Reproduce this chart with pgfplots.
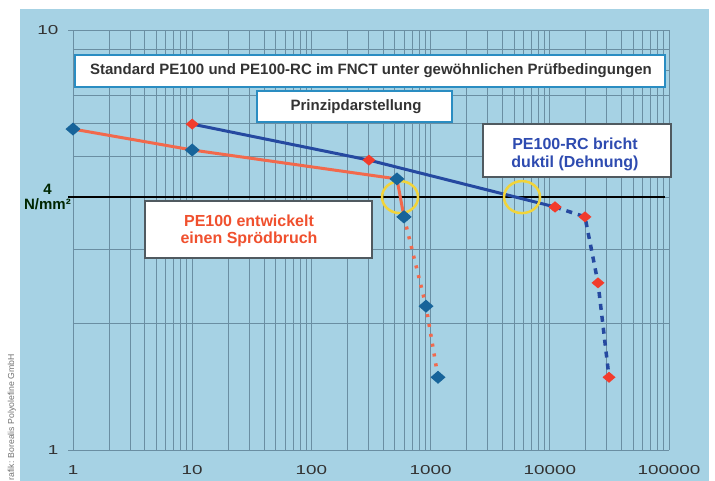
\documentclass[border=0pt]{standalone}
\usepackage{fontspec}
\setmainfont{Liberation Sans}
\usepackage{pgfplots}
\pgfplotsset{compat=1.18}
\usepackage{pgfplotstable}

\definecolor{bgblue}{HTML}{A6D2E4}
\definecolor{gridc}{HTML}{6A8EA2}
\definecolor{lineblue}{HTML}{2549A0}
\definecolor{lineorange}{HTML}{F2694C}
\definecolor{diablue}{HTML}{17649A}
\definecolor{redmark}{HTML}{F23C2C}
\definecolor{yellowc}{HTML}{F2D43A}
\definecolor{boxblue}{HTML}{2A8DC2}
\definecolor{boxgray}{HTML}{505A60}
\definecolor{textdark}{HTML}{333333}
\definecolor{textblue}{HTML}{2E4BB0}
\definecolor{textred}{HTML}{F0502E}
\definecolor{tickc}{HTML}{333333}

\pgfdeclareplotmark{bdia}{%
  \pgfpathmoveto{\pgfqpoint{0pt}{6.5pt}}%
  \pgfpathlineto{\pgfqpoint{7.5pt}{0pt}}%
  \pgfpathlineto{\pgfqpoint{0pt}{-6.5pt}}%
  \pgfpathlineto{\pgfqpoint{-7.5pt}{0pt}}%
  \pgfpathclose\pgfusepathqfill}
\pgfdeclareplotmark{rdia}{%
  \pgfpathmoveto{\pgfqpoint{0pt}{5.5pt}}%
  \pgfpathlineto{\pgfqpoint{6.5pt}{0pt}}%
  \pgfpathlineto{\pgfqpoint{0pt}{-5.5pt}}%
  \pgfpathlineto{\pgfqpoint{-6.5pt}{0pt}}%
  \pgfpathclose\pgfusepathqfill}

\newcommand\wide[1]{\scalebox{1.45}[1]{#1}}

% PE100 (Standard)
\pgfplotstableread{
x y
1 5.81
10 5.18
522 4.42
598 3.59
}\pesolid
\pgfplotstableread{
x y
598 3.59
915 2.20
1154 1.49
}\pedotted
% PE100-RC
\pgfplotstableread{
x y
10 5.97
304 4.90
11060 3.79
}\rcsolid
\pgfplotstableread{
x y
11060 3.79
19730 3.59
25370 2.50
31400 1.49
}\rcdashed

\begin{document}
\begin{tikzpicture}
\fill[white] (0pt,0pt) rectangle (715pt,481pt);
\fill[bgblue] (20pt,0pt) rectangle (709pt,472pt);
\node[rotate=90, anchor=west, text=gray!90!black, font=\fontsize{8.7}{8.7}\selectfont, inner sep=0pt] at (12pt,0.5pt) {rafik: Borealis Polyolefine GmbH};
\begin{axis}[
  at={(73pt,31pt)}, anchor=south west,
  scale only axis, width=596pt, height=420pt,
  xmode=log, ymode=log,
  xmin=1, xmax=100000, ymin=1, ymax=10,
  xtick={1,10,100,1000,10000,100000},
  xticklabels={\wide{1},\wide{10},\wide{100},\wide{1000},\wide{10000},\wide{100000}},
  ytick={1,10},
  yticklabels={\wide{1},\wide{10}},
  minor xtick={2,3,4,5,6,7,8,9,20,30,40,50,60,70,80,90,200,300,400,500,600,700,800,900,2000,3000,4000,5000,6000,7000,8000,9000,20000,30000,40000,50000,60000,70000,80000,90000},
  minor ytick={2,3,4,5,6,7,8,9},
  grid=both,
  major grid style={gridc, line width=0.8pt},
  minor grid style={gridc, line width=0.6pt},
  axis line style={draw=none},
  tick align=inside,
  major tick length=0pt, minor tick length=0pt,
  every tick/.style={draw=none},
  xticklabel style={font=\fontsize{13}{13}\selectfont, text=tickc, yshift=-12pt},
  yticklabel style={font=\fontsize{13}{13}\selectfont, text=tickc, xshift=-11pt},
  clip=false,
]
\draw[gridc, line width=0.7pt] (axis cs:1,1) -- ++(-5pt,0pt);
\draw[gridc, line width=0.7pt] (axis cs:1,10) -- ++(-5pt,0pt);
\draw[black, line width=2pt] (axis cs:0.908,4) -- (axis cs:92500,4);
\addplot[lineorange, line width=3pt, mark=none] table {\pesolid};
\addplot[lineorange, line width=3.5pt, dash pattern=on 3pt off 7pt, mark=none] table {\pedotted};
\addplot[lineblue, line width=3pt, mark=none] table {\rcsolid};
\addplot[lineblue, line width=3.5pt, dash pattern=on 6pt off 6pt, mark=none] table {\rcdashed};
\addplot[only marks, mark=bdia, color=diablue] table {\pesolid};
\addplot[only marks, mark=bdia, color=diablue] table {\pedotted};
\addplot[only marks, mark=rdia, color=redmark] table {\rcsolid};
\addplot[only marks, mark=rdia, color=redmark] table {\rcdashed};
\draw[yellowc, line width=2.5pt] (axis cs:554,4) ellipse [x radius=18pt, y radius=16pt];
\draw[yellowc, line width=2.5pt] (axis cs:5850,4) ellipse [x radius=18pt, y radius=16pt];
\node[align=center, font=\bfseries\fontsize{15}{15}\selectfont, text=black!85!green, xshift=-25.5pt] at (axis cs:1,4) {4\\N/mm²};
\end{axis}
% text boxes
\draw[boxblue, line width=2pt, fill=white] (75pt,394pt) rectangle (665pt,426pt);
\node[font=\bfseries\fontsize{15}{15}\selectfont, text=textdark] at (371pt,410pt) {Standard PE100 und PE100-RC im FNCT unter gewöhnlichen Prüfbedingungen};
\draw[boxblue, line width=2pt, fill=white] (257pt,359pt) rectangle (452pt,390pt);
\node[font=\bfseries\fontsize{15}{15}\selectfont, text=textdark] at (356pt,374.5pt) {Prinzipdarstellung};
\draw[boxgray, line width=1.2pt, fill=white] (483pt,304pt) rectangle (671pt,357pt);
\node[align=center, font=\bfseries\fontsize{16}{18}\selectfont, text=textblue] at (575pt,327pt) {PE100-RC bricht\\duktil (Dehnung)};
\draw[boxgray, line width=1.2pt, fill=white] (145pt,223pt) rectangle (372pt,280pt);
\node[align=center, font=\bfseries\fontsize{16}{17}\selectfont, text=textred] at (249pt,250.5pt) {PE100 entwickelt\\einen Sprödbruch};
\end{tikzpicture}
\end{document}
